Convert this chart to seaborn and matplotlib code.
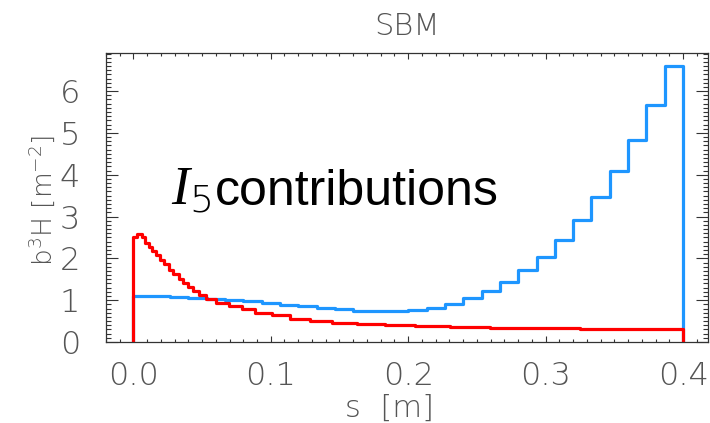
import numpy as np
import pandas as pd
import matplotlib
matplotlib.use("Agg")
import matplotlib.pyplot as plt
import seaborn as sns
from matplotlib.ticker import MultipleLocator

# ---- data -------------------------------------------------------------
# blue curve: 30 equal-width bins between s = 0 and s = 0.4 m
blue_values = [1.11, 1.10, 1.08, 1.06, 1.03, 1.00, 0.97, 0.93, 0.89, 0.85,
               0.81, 0.78, 0.75, 0.74, 0.74, 0.77, 0.82, 0.92, 1.06, 1.22,
               1.44, 1.71, 2.03, 2.44, 2.92, 3.46, 4.09, 4.83, 5.66, 6.61]
blue_edges = np.linspace(0.0, 0.4, len(blue_values) + 1)

# red curve: step edges (m) and heights
red_edges = [0.0, 0.0027, 0.0063, 0.0087, 0.0111, 0.0136, 0.0167, 0.0196,
             0.0220, 0.0257, 0.0289, 0.0329, 0.0361, 0.0395, 0.0434, 0.0475,
             0.0531, 0.0604, 0.0693, 0.0791, 0.0887, 0.1009, 0.1142, 0.1287,
             0.1445, 0.1627, 0.1833, 0.2051, 0.2305, 0.2596, 0.2887, 0.3251,
             0.4]
red_values = [2.50, 2.58, 2.50, 2.37, 2.28, 2.18, 2.08, 1.97, 1.86, 1.73,
              1.62, 1.51, 1.41, 1.32, 1.22, 1.13, 1.03, 0.94, 0.86, 0.78,
              0.70, 0.64, 0.56, 0.505, 0.457, 0.43, 0.40, 0.38, 0.355, 0.34,
              0.325, 0.31]

x_ticks = [0.0, 0.1, 0.2, 0.3, 0.4]
x_tick_labels = ["0.0", "0.1", "0.2", "0.3", "0.4"]
y_ticks = [0, 1, 2, 3, 4, 5, 6]

BLUE = "#1E96FF"
RED = "#FF0000"
GREY = "#555555"


def step_frame(edges, values):
    """Outline of a histogram, closed down to zero at both ends."""
    edges = list(edges)
    xs = [edges[0]] + edges + [edges[-1]]
    ys = [0.0] + list(values) + [values[-1], 0.0]
    return pd.DataFrame({"s": xs, "v": ys})


sns.set_style("ticks")
plt.rcParams["font.family"] = ["DejaVu Sans"]
plt.rcParams["mathtext.fontset"] = "custom"
plt.rcParams["mathtext.rm"] = "DejaVu Sans:light"
plt.rcParams["mathtext.it"] = "Liberation Serif:italic"
plt.rcParams["mathtext.default"] = "rm"

fig = plt.figure(figsize=(7.10, 4.23), dpi=100)
ax = fig.add_axes([0.149, 0.1915, 0.848, 0.683])

sns.lineplot(data=step_frame(blue_edges, blue_values), x="s", y="v",
             estimator=None, sort=False, drawstyle="steps-post",
             color=BLUE, linewidth=2.3, ax=ax)
sns.lineplot(data=step_frame(red_edges, red_values), x="s", y="v",
             estimator=None, sort=False, drawstyle="steps-post",
             color=RED, linewidth=2.3, ax=ax)

ax.set_xlim(-0.02, 0.418)
ax.set_ylim(0, 6.91)

ax.set_xticks(x_ticks)
ax.set_xticklabels(x_tick_labels)
ax.set_yticks(y_ticks)
ax.xaxis.set_minor_locator(MultipleLocator(0.01))
ax.yaxis.set_minor_locator(MultipleLocator(0.1))

for sp in ax.spines.values():
    sp.set_visible(True)
    sp.set_color("#333333")
    sp.set_linewidth(0.9)

ax.tick_params(axis="both", which="both", direction="in", top=True,
               right=True, color="#333333", width=0.8,
               labelcolor=GREY, labelsize=23)
ax.tick_params(axis="x", which="major", length=4.3, pad=14)
ax.tick_params(axis="x", which="minor", length=2.2)
ax.tick_params(axis="y", which="major", length=8.6, pad=18.5)
ax.tick_params(axis="y", which="minor", length=3.8)
for lab in ax.get_xticklabels() + ax.get_yticklabels():
    lab.set_fontweight("light")

ax.set_xlabel("s  [m]", fontsize=22, color=GREY, fontweight="light")
ax.xaxis.set_label_coords(0.472, -0.228)
ax.xaxis.label.set_va("center")
ax.set_ylabel(r"b$^3$H [m$^{-2}$]", fontsize=19, color=GREY,
              fontweight="light")
ax.yaxis.set_label_coords(-0.107, 0.49)
ax.yaxis.label.set_va("center")
ax.set_title("SBM", fontsize=22, color=GREY, pad=13, fontweight="light")

# annotation inside the plot
fig.text(171 / 710, 1 - 205 / 423, r"$\mathit{I}_{\mathit{5}}$",
         fontsize=39, va="baseline", ha="left", color="black")
fig.text(215 / 710, 1 - 205 / 423, "contributions", fontsize=36,
         family="Liberation Sans", va="baseline", ha="left", color="black")

fig.savefig("out.png", dpi=100)
